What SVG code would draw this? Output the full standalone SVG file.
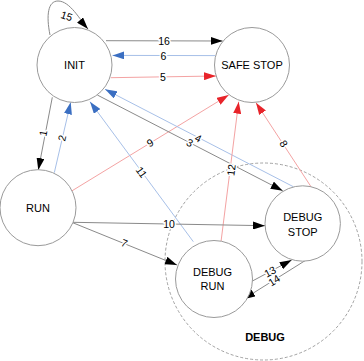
<svg xmlns="http://www.w3.org/2000/svg" width="364" height="361" viewBox="0 0 364 361">
<style>
text{font-family:"Liberation Sans",Arial,sans-serif;fill:#000}
.node circle{fill:#fff;stroke:#9a9a9a;stroke-width:1}
.nt{font-size:11px;text-anchor:middle}
.lbl{font-size:10.5px;text-anchor:middle;dominant-baseline:central;stroke:#fff;stroke-width:3;paint-order:stroke;stroke-linejoin:round}
.g{stroke:#8a8a8a;stroke-width:1;fill:none;marker-end:url(#ak)}
.b{stroke:#a7c0e8;stroke-width:1;fill:none;marker-end:url(#ab)}
.r{stroke:#f4a3a3;stroke-width:1;fill:none;marker-end:url(#ar)}
</style>
<defs>
<marker id="ak" markerUnits="userSpaceOnUse" markerWidth="12" markerHeight="8" refX="12" refY="4" orient="auto"><path d="M0,0L12,4L0,8z" fill="#000"/></marker>
<marker id="ab" markerUnits="userSpaceOnUse" markerWidth="12" markerHeight="8" refX="12" refY="4" orient="auto"><path d="M0,0L12,4L0,8z" fill="#3b6fc2"/></marker>
<marker id="ar" markerUnits="userSpaceOnUse" markerWidth="12" markerHeight="8" refX="12" refY="4" orient="auto"><path d="M0,0L12,4L0,8z" fill="#e8242a"/></marker>
</defs>
<g id="debug-group">
<circle cx="263.5" cy="261.5" r="98.5" fill="none" stroke="#8a8a8a" stroke-width="0.8" stroke-dasharray="3,2"/>
<text x="265" y="341" font-size="11" font-weight="bold" text-anchor="middle">DEBUG</text>
</g>
<g id="connectors">
<path class="g" d="M50,35C46,15 48,1 58,1C70,1 80,20 88,29"/>
<path class="g" d="M106,40.7L222.7,41"/>
<path class="b" d="M215,55.6L112.5,55.4"/>
<path class="r" d="M110.7,77.7L216,76"/>
<path class="g" d="M52.3,97.3L38.3,170"/>
<path class="b" d="M54.3,172.7L70.7,102.3"/>
<path class="r" d="M71.7,191L228.7,95"/>
<path class="b" d="M193.3,241.7L90,101.7"/>
<path class="g" d="M97.3,95L282.7,190.7"/>
<path class="b" d="M293.3,186.7L105,89.3"/>
<path class="r" d="M221,241.7L238.7,101.7"/>
<path class="r" d="M311,186.7L256,102.7"/>
<path class="g" d="M72.7,222.3L265,225.7"/>
<path class="g" d="M72.7,222.7L177,265"/>
<path class="g" d="M250,282.3L291.7,260"/>
<path class="g" d="M305,260.7L243.3,299.3"/>
<text class="lbl" transform="translate(66.7,15.7) rotate(18)">15</text>
<text class="lbl" x="164" y="41">16</text>
<text class="lbl" x="163.3" y="55.8">6</text>
<text class="lbl" x="163" y="77">5</text>
<text class="lbl" transform="translate(43,133) rotate(-79)">1</text>
<text class="lbl" transform="translate(61.7,138) rotate(-77)">2</text>
<text class="lbl" transform="translate(150,142.5) rotate(-31)">9</text>
<text class="lbl" transform="translate(141.7,172) rotate(54)">11</text>
<text class="lbl" transform="translate(190,142.5) rotate(27)">3</text>
<text class="lbl" transform="translate(198.3,138) rotate(27)">4</text>
<text class="lbl" transform="translate(231,170) rotate(-83)">12</text>
<text class="lbl" transform="translate(284,143.5) rotate(57)">8</text>
<text class="lbl" x="169" y="223.5">10</text>
<text class="lbl" transform="translate(124.5,243) rotate(22)">7</text>
<text class="lbl" transform="translate(270,271.5) rotate(-28)">13</text>
<text class="lbl" transform="translate(274,280.2) rotate(-32)">14</text>
</g>
<g id="init" class="node"><circle cx="74.5" cy="65" r="37.5"/><text class="nt" x="74.5" y="69">INIT</text></g>
<g id="safe-stop" class="node"><circle cx="252" cy="65" r="37.5"/><text class="nt" x="252" y="69">SAFE STOP</text></g>
<g id="run" class="node"><circle cx="38" cy="207.7" r="38"/><text class="nt" x="38" y="211.7">RUN</text></g>
<g id="debug-stop" class="node"><circle cx="302.7" cy="223.5" r="37.7"/><text class="nt" x="302.7" y="221.3">DEBUG</text><text class="nt" x="302.7" y="235.5">STOP</text></g>
<g id="debug-run" class="node"><circle cx="214" cy="279" r="38.5"/><text class="nt" x="212.5" y="276">DEBUG</text><text class="nt" x="212.5" y="290">RUN</text></g>
</svg>
